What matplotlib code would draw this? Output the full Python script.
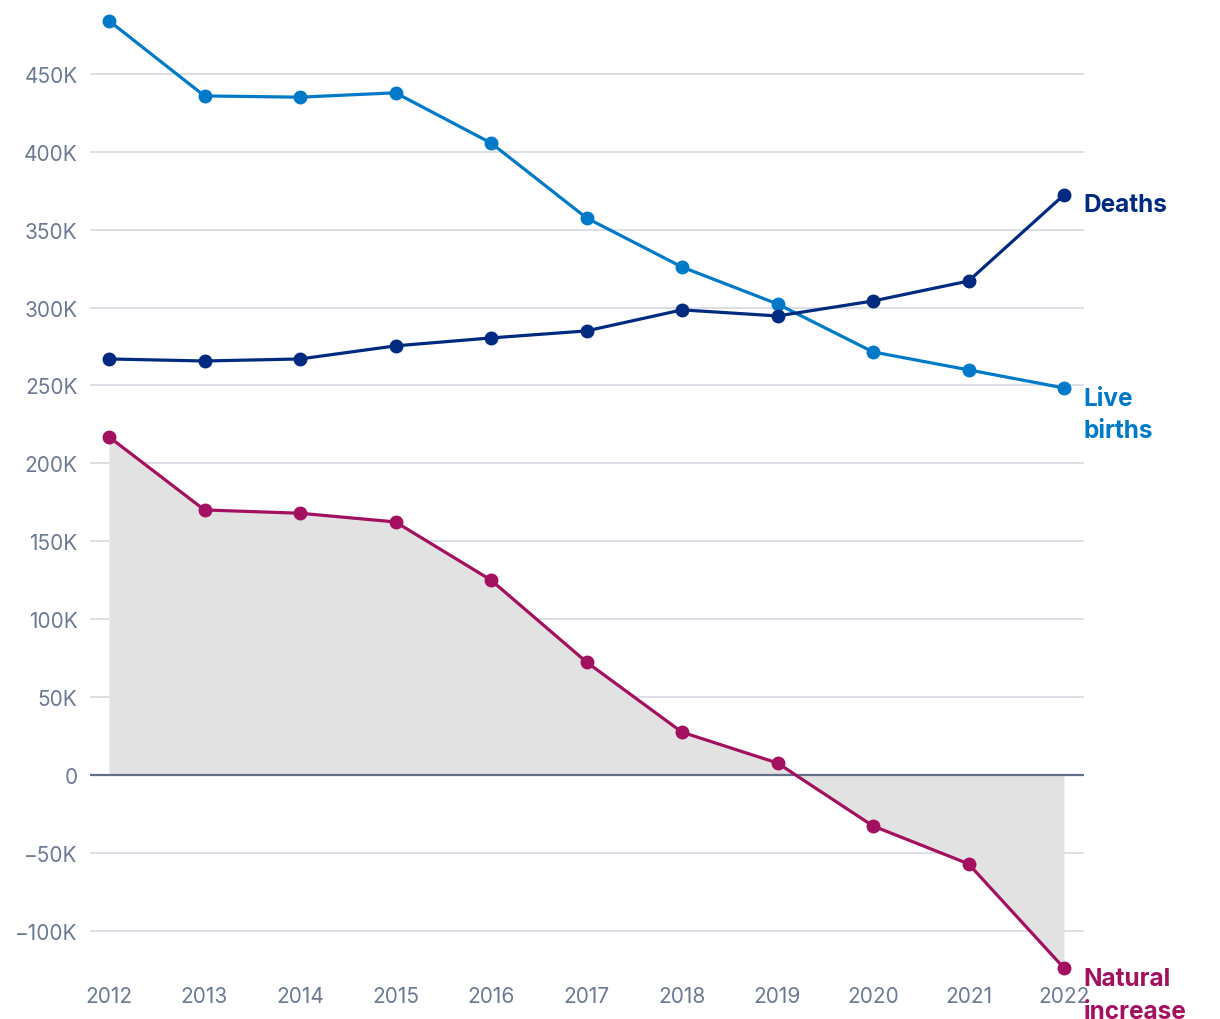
import matplotlib

matplotlib.use("Agg")
import matplotlib.pyplot as plt  # noqa: E402
from matplotlib.ticker import FuncFormatter  # noqa: E402

plt.rcParams["font.family"] = ["Inter", "DejaVu Sans"]

# Values (thousands)
years = [2012, 2013, 2014, 2015, 2016, 2017, 2018, 2019, 2020, 2021, 2022]
live_births = [484.0, 435.8, 435.0, 437.8, 405.6, 357.5, 326.0, 302.3, 271.5, 260.0, 248.4]
deaths = [267.0, 265.7, 267.0, 275.4, 280.5, 285.0, 298.5, 294.6, 304.2, 317.0, 372.3]
natural_increase = [217.0, 170.1, 168.0, 162.4, 125.1, 72.5, 27.5, 7.7, -32.7, -57.0, -123.9]
y_ticks = [-100, -50, 0, 50, 100, 150, 200, 250, 300, 350, 400, 450]

BIRTHS_COLOR = "#0079c8"
DEATHS_COLOR = "#002a80"
NATURAL_COLOR = "#a3105f"
TICK_COLOR = "#6b7a93"
GRID_COLOR = "#d6dae2"
ZERO_COLOR = "#62708a"
FILL_COLOR = "#e2e2e2"


def _k_label(value, _pos):
    if value == 0:
        return "0"
    sign = "\u2212" if value < 0 else ""
    return f"{sign}{abs(int(value))}K"


fig = plt.figure(figsize=(12.2, 10.2), dpi=100)
ax = fig.add_axes([90 / 1220, 40 / 1020, 994 / 1220, 980 / 1020])

ax.set_xlim(2012 - 19 / 95.5, 2022 + 20 / 95.5)
ax.set_ylim(-130.9, 498.0)

ax.fill_between(years, natural_increase, 0, color=FILL_COLOR, linewidth=0, zorder=1)

for y in y_ticks:
    if y == 0:
        ax.axhline(y, color=ZERO_COLOR, linewidth=1.6, zorder=2)
    else:
        ax.axhline(y, color=GRID_COLOR, linewidth=1.2, zorder=0)

line_kw = dict(linewidth=2.3, marker="o", markersize=9, clip_on=False, zorder=4)
ax.plot(years, live_births, color=BIRTHS_COLOR, **line_kw)
ax.plot(years, deaths, color=DEATHS_COLOR, **line_kw)
ax.plot(years, natural_increase, color=NATURAL_COLOR, **line_kw)

label_kw = dict(
    textcoords="offset points",
    ha="left",
    va="top",
    fontsize=17.5,
    fontweight="bold",
    linespacing=1.55,
    annotation_clip=False,
)
ax.annotate("Deaths", (years[-1], deaths[-1]), xytext=(14, 1), color=DEATHS_COLOR, **label_kw)
ax.annotate("Live\nbirths", (years[-1], live_births[-1]), xytext=(14, 1), color=BIRTHS_COLOR, **label_kw)
ax.annotate("Natural\nincrease", (years[-1], natural_increase[-1]), xytext=(14, 1),
            color=NATURAL_COLOR, **label_kw)

ax.set_xticks(years)
ax.set_yticks(y_ticks)
ax.yaxis.set_major_formatter(FuncFormatter(_k_label))
ax.tick_params(axis="both", length=0, labelsize=15, colors=TICK_COLOR)
ax.tick_params(axis="y", pad=9)
ax.tick_params(axis="x", pad=5)

for spine in ax.spines.values():
    spine.set_visible(False)

fig.savefig("out.png", dpi=100)
plt.close(fig)
